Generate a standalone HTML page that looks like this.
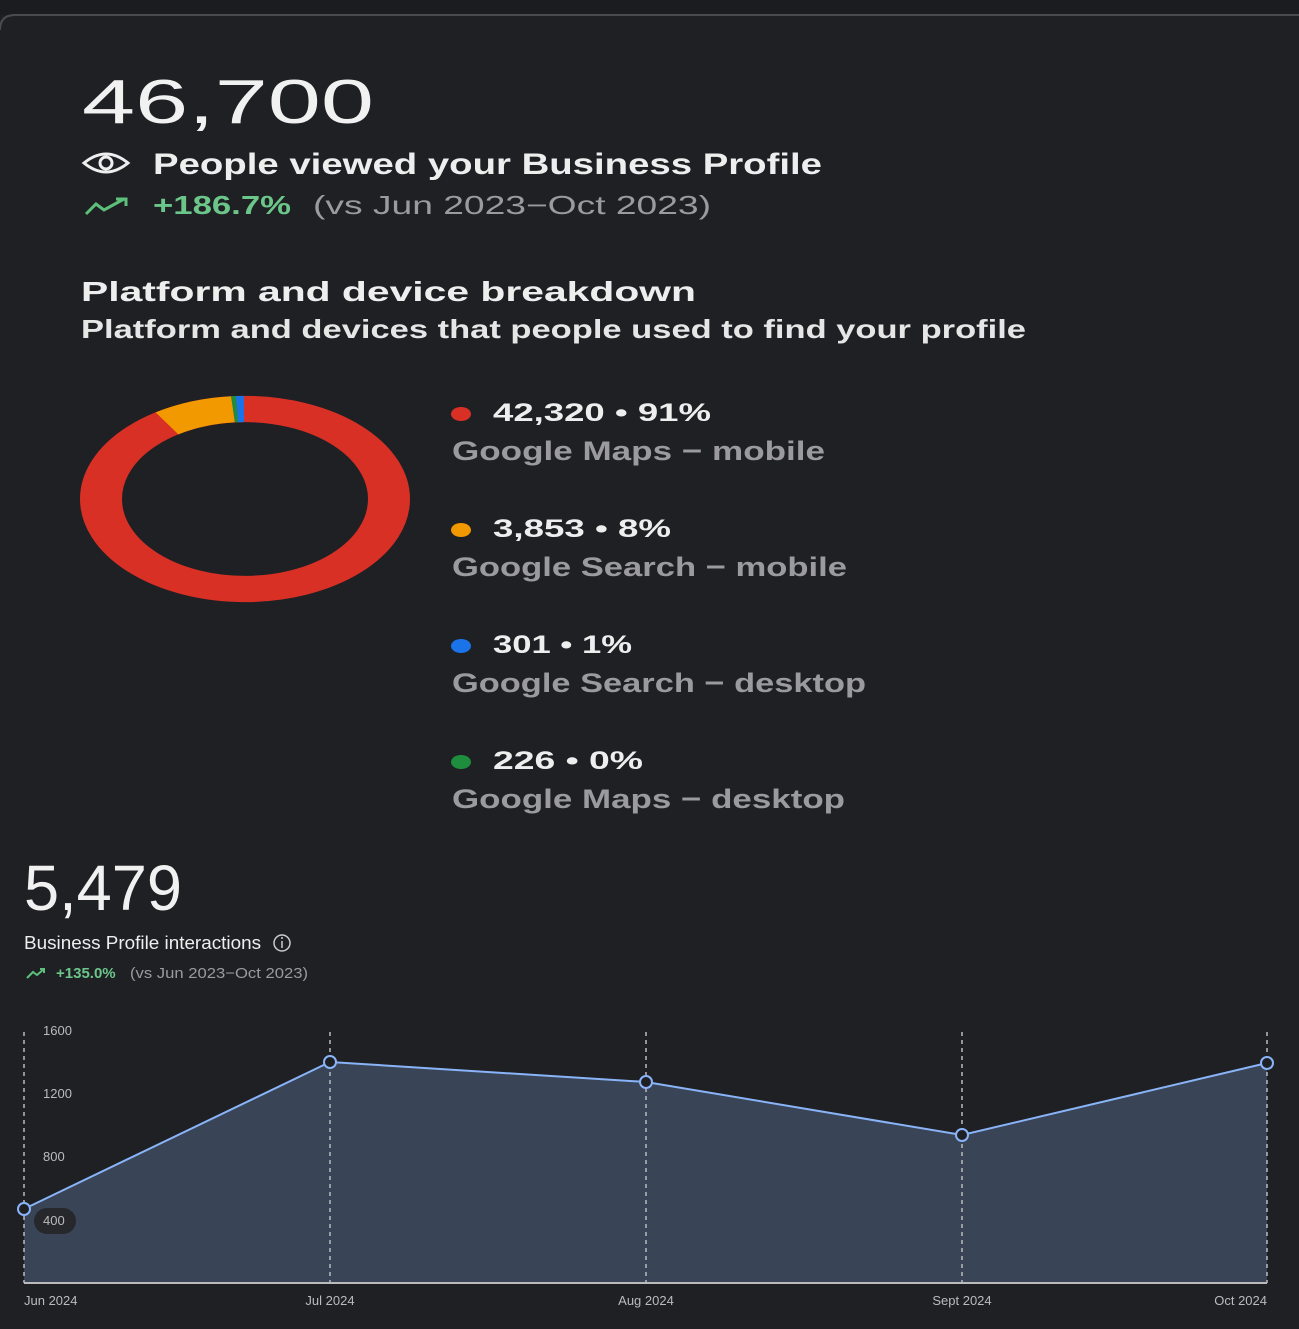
<!DOCTYPE html>
<html><head><style>
html,body{margin:0;padding:0;background:#1f2024;}
svg{display:block}
text{font-family:"Liberation Sans",sans-serif}
</style></head><body>
<svg width="1299" height="1329" viewBox="0 0 1299 1329" xmlns="http://www.w3.org/2000/svg">
<rect width="1299" height="1329" fill="#1f2024"/>
<rect width="1299" height="15" fill="#1b1c20"/>
<path d="M0 30 Q0 15 15 15 L1299 15" fill="none" stroke="#4a4b50" stroke-width="2"/>
<text x="82" y="123" font-size="62" fill="#f1f1f1" textLength="292" lengthAdjust="spacingAndGlyphs">46,700</text>
<g fill="none" stroke="#eee" stroke-width="3">
<path d="M84 163 Q106 145 128 163 Q106 181 84 163Z"/><circle cx="106" cy="163" r="6"/></g>
<text x="153" y="174" font-size="30" font-weight="bold" fill="#eeeeee" textLength="669" lengthAdjust="spacingAndGlyphs">People viewed your Business Profile</text>
<path d="M86 214 L96 204 L104 210 L124 199 M116 199 L126 199 L126 206" fill="none" stroke="#5cc07a" stroke-width="3"/>
<text x="153" y="214" font-size="26" font-weight="bold" fill="#6cc68a" textLength="138" lengthAdjust="spacingAndGlyphs">+186.7%</text>
<text x="313" y="214" font-size="26" fill="#9a9a9f" textLength="398" lengthAdjust="spacingAndGlyphs">(vs Jun 2023−Oct 2023)</text>
<text x="81" y="301" font-size="28" font-weight="bold" fill="#eeeeee" textLength="615" lengthAdjust="spacingAndGlyphs">Platform and device breakdown</text>
<text x="81" y="338" font-size="26" font-weight="bold" fill="#e6e6e6" textLength="945" lengthAdjust="spacingAndGlyphs">Platform and devices that people used to find your profile</text>
<g transform="translate(245,499) scale(1,0.625)">
<circle r="144" fill="none" stroke="#d93025" stroke-width="42"/>
<path d="M-78 -121 A144 144 0 0 1 -12 -143.5" fill="none" stroke="#f29900" stroke-width="42"/>
<path d="M-12 -143.5 A144 144 0 0 1 -5 -144" fill="none" stroke="#1e8e3e" stroke-width="42"/>
<path d="M-8 -143.8 A144 144 0 0 1 -1 -144" fill="none" stroke="#1a73e8" stroke-width="42"/>
</g>
<g font-weight="bold">
<ellipse cx="461" cy="414" rx="10" ry="7" fill="#d93025"/>
<text x="493" y="421" font-size="25" fill="#eee" textLength="218" lengthAdjust="spacingAndGlyphs">42,320 • 91%</text>
<text x="452" y="460" font-size="27" fill="#9a9a9f" textLength="373" lengthAdjust="spacingAndGlyphs">Google Maps − mobile</text>
<ellipse cx="461" cy="530" rx="10" ry="7" fill="#f29900"/>
<text x="493" y="537" font-size="25" fill="#eee" textLength="178" lengthAdjust="spacingAndGlyphs">3,853 • 8%</text>
<text x="452" y="576" font-size="27" fill="#9a9a9f" textLength="395" lengthAdjust="spacingAndGlyphs">Google Search − mobile</text>
<ellipse cx="461" cy="646" rx="10" ry="7" fill="#1a73e8"/>
<text x="493" y="653" font-size="25" fill="#eee" textLength="139" lengthAdjust="spacingAndGlyphs">301 • 1%</text>
<text x="452" y="692" font-size="27" fill="#9a9a9f" textLength="414" lengthAdjust="spacingAndGlyphs">Google Search − desktop</text>
<ellipse cx="461" cy="762" rx="10" ry="7" fill="#1e8e3e"/>
<text x="493" y="769" font-size="25" fill="#eee" textLength="150" lengthAdjust="spacingAndGlyphs">226 • 0%</text>
<text x="452" y="808" font-size="27" fill="#9a9a9f" textLength="393" lengthAdjust="spacingAndGlyphs">Google Maps − desktop</text>
</g>
<text x="24" y="910" font-size="64" fill="#f1f1f1" textLength="158" lengthAdjust="spacingAndGlyphs">5,479</text>
<text x="24" y="949" font-size="18" fill="#eeeeee" textLength="237" lengthAdjust="spacingAndGlyphs">Business Profile interactions</text>
<circle cx="282" cy="943" r="8" fill="none" stroke="#ccc" stroke-width="1.5"/>
<line x1="282" y1="941" x2="282" y2="948" stroke="#ccc" stroke-width="1.5"/><circle cx="282" cy="938" r="1" fill="#ccc"/>
<path d="M27 978 L33 972 L37 975 L44 969 M40 969 L44 969 L44 973" fill="none" stroke="#5cc07a" stroke-width="2"/>
<text x="56" y="978" font-size="15" fill="#6cc68a" font-weight="bold">+135.0%</text>
<text x="130" y="978" font-size="15" fill="#9a9a9f" textLength="178" lengthAdjust="spacingAndGlyphs">(vs Jun 2023−Oct 2023)</text>
<path d="M24 1209 L330 1062 L646 1082 L962 1135 L1267 1063 L1267 1283 L24 1283Z" fill="#394457"/>
<g stroke="#bbb" stroke-width="1.5" stroke-dasharray="4,4">
<line x1="24" y1="1032" x2="24" y2="1283"/><line x1="330" y1="1032" x2="330" y2="1283"/>
<line x1="646" y1="1032" x2="646" y2="1283"/><line x1="962" y1="1032" x2="962" y2="1283"/>
<line x1="1267" y1="1032" x2="1267" y2="1283"/></g>
<line x1="24" y1="1283" x2="1267" y2="1283" stroke="#bbb" stroke-width="2"/>
<polyline points="24,1209 330,1062 646,1082 962,1135 1267,1063" fill="none" stroke="#8ab4f8" stroke-width="2"/>
<g fill="#1f2024" stroke="#8ab4f8" stroke-width="2">
<circle cx="24" cy="1209" r="6"/><circle cx="330" cy="1062" r="6"/><circle cx="646" cy="1082" r="6"/><circle cx="962" cy="1135" r="6"/><circle cx="1267" cy="1063" r="6"/></g>
<rect x="34" y="1208" width="42" height="26" rx="13" fill="#26282c"/>
<g font-size="13" fill="#bbb">
<text x="43" y="1035">1600</text><text x="43" y="1098">1200</text><text x="43" y="1161">800</text><text x="43" y="1225">400</text>
<text x="24" y="1305">Jun 2024</text><text x="330" y="1305" text-anchor="middle">Jul 2024</text>
<text x="646" y="1305" text-anchor="middle">Aug 2024</text><text x="962" y="1305" text-anchor="middle">Sept 2024</text>
<text x="1267" y="1305" text-anchor="end">Oct 2024</text></g>
</svg>
</body></html>
